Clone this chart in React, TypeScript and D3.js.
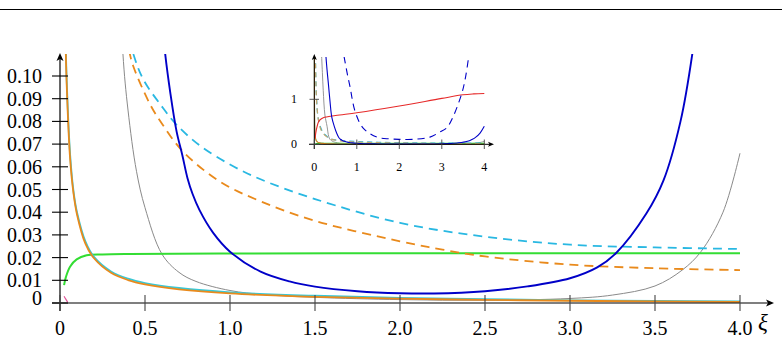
import React from 'react';
import * as d3 from 'd3';

type Pt = [number, number];

// curves, as [xi, value]
const orangeSolid: Pt[] = [[0.003, 1.9], [0.005, 0.76], [0.01, 0.38], [0.02, 0.19], [0.03, 0.125], [0.04, 0.095], [0.06, 0.063], [0.08, 0.048], [0.1, 0.039], [0.15, 0.026], [0.2, 0.0197], [0.3, 0.0133], [0.4, 0.0101], [0.5, 0.0082], [0.7, 0.006], [1.0, 0.0042], [1.5, 0.0027], [2.0, 0.0019], [2.5, 0.0014], [3.0, 0.001], [3.5, 0.0007], [4.0, 0.0005]];
const cyanSolid: Pt[] = [[0.003, 1.95], [0.005, 0.78], [0.01, 0.39], [0.02, 0.195], [0.03, 0.127], [0.04, 0.097], [0.06, 0.065], [0.08, 0.049], [0.1, 0.04], [0.15, 0.027], [0.2, 0.0203], [0.3, 0.0139], [0.4, 0.0107], [0.5, 0.0088], [0.7, 0.0066], [1.0, 0.0047], [1.5, 0.0032], [2.0, 0.0023], [2.5, 0.0017], [3.0, 0.0012], [3.5, 0.0009], [4.0, 0.0007]];
const grayThin: Pt[] = [[0.17, 2.0], [0.19, 1.6], [0.21, 1.2], [0.25, 0.65], [0.3, 0.4], [0.34, 0.17], [0.37, 0.11], [0.4, 0.085], [0.45, 0.058], [0.5, 0.042], [0.6, 0.0215], [0.7, 0.0135], [0.8, 0.0095], [1.0, 0.0055], [1.2, 0.0037], [1.5, 0.0025], [2.0, 0.0015], [2.5, 0.0012], [3.0, 0.002], [3.25, 0.0035], [3.5, 0.0075], [3.66, 0.0145], [3.77, 0.0226], [3.9, 0.04], [4.0, 0.066]];
const greenSolid: Pt[] = [[0.024, 0.0079], [0.035, 0.0115], [0.059, 0.016], [0.098, 0.0192], [0.157, 0.021], [0.25, 0.0214], [0.41, 0.0216], [1.0, 0.0218], [2.0, 0.0219], [3.0, 0.0219], [4.0, 0.0219]];
const cyanDashed: Pt[] = [[0.03, 1.8], [0.05, 1.08], [0.1, 0.54], [0.2, 0.27], [0.3, 0.175], [0.38, 0.125], [0.43, 0.11], [0.49, 0.0985], [0.6, 0.0865], [0.686, 0.0785], [0.82, 0.0695], [1.0, 0.061], [1.18, 0.0545], [1.5, 0.0458], [2.0, 0.0353], [2.5, 0.0292], [3.0, 0.0257], [3.5, 0.0245], [4.0, 0.0238]];
const orangeDashed: Pt[] = [[0.025, 2.0], [0.03, 1.7], [0.04, 1.3], [0.05, 1.05], [0.07, 0.75], [0.1, 0.52], [0.15, 0.34], [0.21, 0.24], [0.3, 0.165], [0.36, 0.128], [0.41, 0.11], [0.43, 0.1045], [0.53, 0.0875], [0.6, 0.079], [0.72, 0.067], [0.94, 0.0535], [1.18, 0.0448], [1.5, 0.0362], [2.0, 0.0272], [2.25, 0.0235], [2.5, 0.0205], [3.0, 0.0169], [3.5, 0.0153], [4.0, 0.0145]];
const blueSolid: Pt[] = [[0.27, 2.0], [0.3, 1.65], [0.33, 1.36], [0.37, 0.95], [0.41, 0.61], [0.47, 0.4], [0.53, 0.24], [0.58, 0.145], [0.614, 0.113], [0.65, 0.092], [0.686, 0.0755], [0.72, 0.065], [0.75, 0.055], [0.78, 0.048], [0.82, 0.041], [0.9, 0.031], [1.0, 0.0226], [1.18, 0.0138], [1.35, 0.0095], [1.5, 0.0072], [1.75, 0.0052], [2.0, 0.0043], [2.2, 0.0042], [2.5, 0.0052], [2.75, 0.0073], [3.0, 0.0109], [3.16, 0.0157], [3.27, 0.0219], [3.45, 0.0395], [3.55, 0.054], [3.65, 0.08], [3.72, 0.11], [3.8, 0.16], [3.9, 0.25], [4.0, 0.4]];
const pinkSolid: Pt[] = [[0.024, 0.003], [0.034, 0.0017], [0.045, 0.0004]];
// only seen in the zoomed-out panel
const redSolid: Pt[] = [[0.016, 0.13], [0.05, 0.33], [0.1, 0.5], [0.13, 0.54], [0.21, 0.59], [0.5, 0.64], [1.0, 0.7], [2.0, 0.85], [3.0, 1.02], [3.5, 1.1], [3.75, 1.12], [4.0, 1.13]];
const blueDashed: Pt[] = [[0.7, 1.95], [0.78, 1.55], [0.84, 1.28], [0.96, 0.73], [1.15, 0.36], [1.47, 0.16], [1.78, 0.12], [2.0, 0.11], [2.33, 0.11], [2.72, 0.16], [2.95, 0.27], [3.11, 0.36], [3.25, 0.58], [3.47, 1.13], [3.56, 1.5], [3.64, 2.0]];

const mainXTicks = [0, 0.5, 1.0, 1.5, 2.0, 2.5, 3.0, 3.5, 4.0];
const mainXLabels = ['0', '0.5', '1.0', '1.5', '2.0', '2.5', '3.0', '3.5', '4.0'];
const mainYTicks = [0, 0.01, 0.02, 0.03, 0.04, 0.05, 0.06, 0.07, 0.08, 0.09, 0.1];
const mainYLabels = ['0', '0.01', '0.02', '0.03', '0.04', '0.05', '0.06', '0.07', '0.08', '0.09', '0.10'];
const insetXTicks = [0, 1, 2, 3, 4];
const insetYTicks = [0, 1];

const ORANGE = '#e98a1c';
const CYAN = '#29b8e2';
const TEAL = '#38c8d6';
const GREEN = '#33dd33';
const BLUE = '#0000c8';
const GRAY = '#8a8a8a';
const RED = '#e62a2a';
const PINK = '#e0569a';
const FONT = '"Liberation Serif", "DejaVu Serif", serif';

export default function App() {
  const x = d3.scaleLinear().domain([0, 4]).range([60, 740]);
  const y = d3.scaleLinear().domain([0, 0.1]).range([303, 76]);
  const ix = d3.scaleLinear().domain([0, 4]).range([314.3, 484.3]);
  const iy = d3.scaleLinear().domain([0, 1]).range([144.3, 99.3]);

  const smooth = d3.curveCatmullRom.alpha(0.5);
  const line = d3.line<Pt>().x(d => x(d[0])).y(d => y(d[1])).curve(smooth);
  const iline = d3.line<Pt>().x(d => ix(d[0])).y(d => iy(d[1])).curve(smooth);

  const mainSeries = [
    { data: grayThin, color: GRAY, w: 1, dash: undefined },
    { data: greenSolid, color: GREEN, w: 2, dash: undefined },
    { data: cyanDashed, color: CYAN, w: 1.8, dash: '9,6' },
    { data: orangeDashed, color: ORANGE, w: 1.8, dash: '9,6' },
    { data: cyanSolid, color: TEAL, w: 1.8, dash: undefined },
    { data: orangeSolid, color: ORANGE, w: 1.8, dash: undefined },
    { data: blueSolid, color: BLUE, w: 1.9, dash: undefined },
    { data: pinkSolid, color: PINK, w: 1.2, dash: undefined },
  ];
  const insetSeries = [
    { data: grayThin, color: GRAY, w: 0.9, dash: undefined },
    { data: greenSolid, color: GREEN, w: 1.2, dash: undefined },
    { data: cyanDashed, color: CYAN, w: 1.2, dash: '5,4' },
    { data: orangeDashed, color: '#c9a66a', w: 1.2, dash: '5,4' },
    { data: cyanSolid, color: TEAL, w: 1.1, dash: undefined },
    { data: orangeSolid, color: ORANGE, w: 1.1, dash: undefined },
    { data: redSolid, color: RED, w: 1.1, dash: undefined },
    { data: blueSolid, color: BLUE, w: 1.1, dash: undefined },
    { data: blueDashed, color: BLUE, w: 1.1, dash: '7,5' },
  ];

  return (
    <div style={{ position: 'absolute', left: 0, top: 0 }}>
      <svg width={782} height={350} style={{ display: 'block', background: '#fff' }}>
        <defs>
          <clipPath id="mainClip"><rect x={56} y={54} width={690} height={252} /></clipPath>
          <clipPath id="insetClip"><rect x={312} y={57} width={176} height={89} /></clipPath>
        </defs>

        <line x1={0} x2={782} y1={9.5} y2={9.5} stroke="#000" strokeWidth={1} />

        {/* main panel */}
        <g clipPath="url(#mainClip)" fill="none">
          {mainSeries.map((s, i) => (
            <path key={i} d={line(s.data) || ''} stroke={s.color} strokeWidth={s.w} strokeDasharray={s.dash} />
          ))}
        </g>
        <g stroke="#000" strokeWidth={1.2}>
          <line x1={60} x2={60} y1={311} y2={58} />
          <line x1={52} x2={769} y1={303} y2={303} />
        </g>
        <path d="M60,53 L56.5,61 L60,59 L63.5,61 Z" fill="#000" />
        <path d="M774,303 L766,299.5 L768,303 L766,306.5 Z" fill="#000" />
        {mainYTicks.map((t, i) => (
          <g key={t}>
            <line x1={52} x2={68} y1={y(t)} y2={y(t)} stroke="#000" strokeWidth={1.1} />
            <text x={42} y={t === 0 ? y(t) + 2 : y(t) + 7} textAnchor="end" fontFamily={FONT} fontSize={20}>{mainYLabels[i]}</text>
          </g>
        ))}
        {mainXTicks.map((t, i) => (
          <g key={t}>
            <line x1={x(t)} x2={x(t)} y1={295} y2={311} stroke="#444" strokeWidth={1.1} />
            <text x={x(t)} y={335} textAnchor="middle" fontFamily={FONT} fontSize={20}>{mainXLabels[i]}</text>
          </g>
        ))}
        <text x={758} y={330} fontFamily={FONT} fontStyle="italic" fontSize={23}>ξ</text>

        {/* inset panel */}
        <g clipPath="url(#insetClip)" fill="none">
          {insetSeries.map((s, i) => (
            <path key={i} d={iline(s.data) || ''} stroke={s.color} strokeWidth={s.w} strokeDasharray={s.dash} />
          ))}
        </g>
        <g stroke="#000" strokeWidth={1}>
          <line x1={ix(0)} x2={ix(0)} y1={149} y2={58} />
          <line x1={309} x2={490} y1={iy(0)} y2={iy(0)} />
        </g>
        <path d="M314.3,54 L311.8,60 L314.3,58.5 L316.8,60 Z" fill="#000" />
        <path d="M494,144.3 L488,141.8 L489.5,144.3 L488,146.8 Z" fill="#000" />
        {insetYTicks.map(t => (
          <g key={t}>
            <line x1={309.5} x2={319} y1={iy(t)} y2={iy(t)} stroke="#444" strokeWidth={0.9} />
            <text x={294} y={iy(t) + 4} textAnchor="middle" fontFamily={FONT} fontSize={12}>{t}</text>
          </g>
        ))}
        {insetXTicks.map(t => (
          <g key={t}>
            <line x1={ix(t)} x2={ix(t)} y1={139.5} y2={149} stroke="#444" strokeWidth={0.9} />
            <text x={ix(t)} y={170.5} textAnchor="middle" fontFamily={FONT} fontSize={12}>{t}</text>
          </g>
        ))}
      </svg>
    </div>
  );
}
